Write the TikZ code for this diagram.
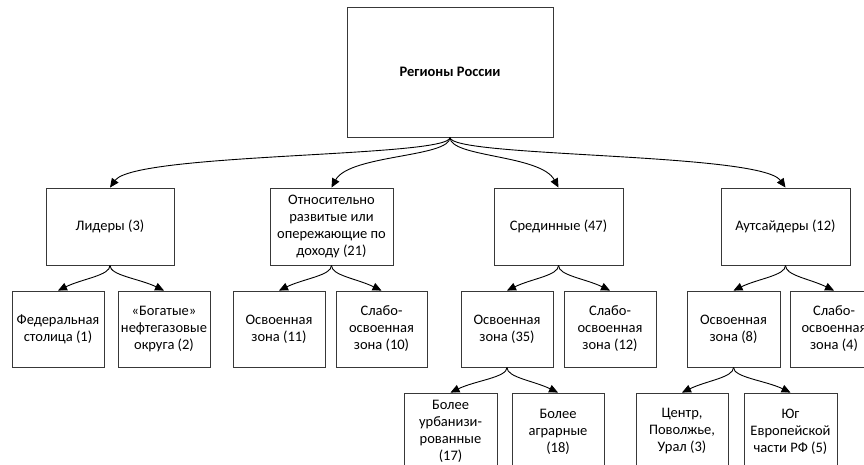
\documentclass[tikz,border=0pt]{standalone}
\usepackage{fontspec}
\setmainfont{Carlito}
\usetikzlibrary{arrows.meta,calc}
\begin{document}
\begin{tikzpicture}[x=1pt,y=-1pt,
  bx/.style={draw=black!78, line width=0.9pt, align=center, inner sep=0pt,
    font=\fontsize{14.5}{17}\selectfont},
  conn/.style={draw=black, line width=0.9pt, -{Triangle[length=9pt,width=8pt]}}]
\useasboundingbox (0,0) rectangle (864,465);
\clip (0,0) rectangle (864,465);
% level 0
\node[bx, minimum width=206pt, minimum height=130pt] (top) at (450,72) {\bfseries Регионы России};
% level 1
\node[bx, minimum width=128pt, minimum height=77pt] (lid) at (110,226.5) {Лидеры (3)};
\node[bx, minimum width=123pt, minimum height=77pt] (otn) at (331.5,226.5) {Относительно\\развитые или\\опережающие по\\доходу (21)};
\node[bx, minimum width=129pt, minimum height=77pt] (sre) at (558.5,226.5) {Срединные (47)};
\node[bx, minimum width=129pt, minimum height=77pt] (aut) at (785.5,226.5) {Аутсайдеры (12)};
% level 2
\node[bx, minimum width=92pt, minimum height=76pt] (fed) at (58,329) {Федеральная\\столица (1)};
\node[bx, minimum width=92pt, minimum height=76pt] (bog) at (164,329) {«Богатые»\\нефтегазовые\\округа (2)};
\node[bx, minimum width=92pt, minimum height=76pt] (osvA) at (279,329) {Освоенная\\зона (11)};
\node[bx, minimum width=91pt, minimum height=76pt] (slaA) at (381.5,329) {Слабо-\\освоенная\\зона (10)};
\node[bx, minimum width=92pt, minimum height=76pt] (osvB) at (507,329) {Освоенная\\зона (35)};
\node[bx, minimum width=92pt, minimum height=76pt] (slaB) at (610,329) {Слабо-\\освоенная\\зона (12)};
\node[bx, minimum width=93pt, minimum height=76pt] (osvC) at (733.5,329) {Освоенная\\зона (8)};
\node[bx, minimum width=88pt, minimum height=76pt] (slaC) at (834,329) {Слабо-\\освоенная\\зона (4)};
% level 3
\node[bx, minimum width=93pt, minimum height=77pt] (urb) at (450.5,431.5) {Более\\урбанизи-\\рованные\\(17)};
\node[bx, minimum width=92pt, minimum height=77pt] (agr) at (558,431.5) {Более\\аграрные\\(18)};
\node[bx, minimum width=92pt, minimum height=77pt] (cen) at (682,431.5) {Центр,\\Поволжье,\\Урал (3)};
\node[bx, minimum width=93pt, minimum height=77pt] (yug) at (790.5,431.5) {Юг\\Европейской\\части РФ (5)};
% connectors level 0 -> 1
\draw[conn] (top.south) .. controls ($(top.south)+(0,20)$) and ($(lid.north)+(25,-35)$) .. (lid.north);
\draw[conn] (top.south) .. controls ($(top.south)+(0,20)$) and ($(otn.north)+(18,-33)$) .. (otn.north);
\draw[conn] (top.south) .. controls ($(top.south)+(0,20)$) and ($(sre.north)+(-18,-33)$) .. (sre.north);
\draw[conn] (top.south) .. controls ($(top.south)+(0,20)$) and ($(aut.north)+(-25,-35)$) .. (aut.north);
% level 1 -> 2
\foreach \p/\l/\r in {lid/fed/bog, otn/osvA/slaA, sre/osvB/slaB, aut/osvC/slaC}{
  \draw[conn] (\p.south) .. controls ($(\p.south)+(0,10)$) and ($(\l.north)+(25,-12)$) .. (\l.north);
  \draw[conn] (\p.south) .. controls ($(\p.south)+(0,10)$) and ($(\r.north)+(-25,-12)$) .. (\r.north);
}
% level 2 -> 3
\foreach \p/\l/\r in {osvB/urb/agr, osvC/cen/yug}{
  \draw[conn] (\p.south) .. controls ($(\p.south)+(0,10)$) and ($(\l.north)+(25,-12)$) .. (\l.north);
  \draw[conn] (\p.south) .. controls ($(\p.south)+(0,10)$) and ($(\r.north)+(-25,-12)$) .. (\r.north);
}
\end{tikzpicture}
\end{document}
